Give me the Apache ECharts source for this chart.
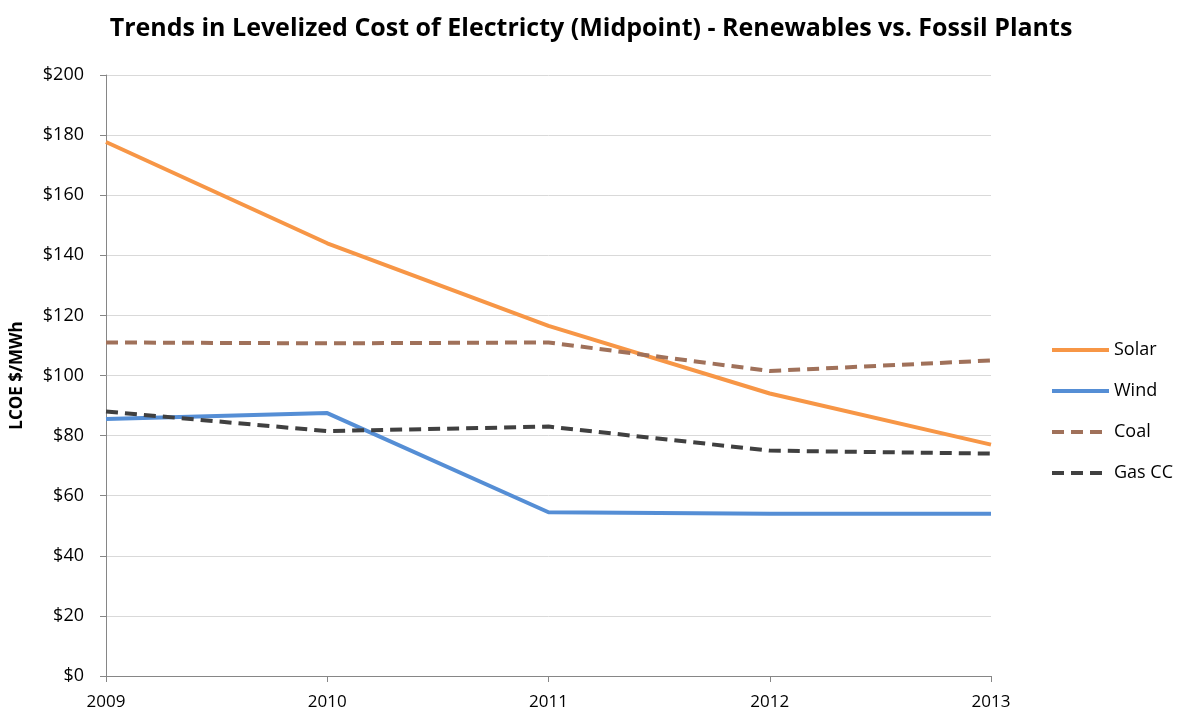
<!DOCTYPE html>
<html>
<head>
<meta charset="utf-8">
<script src="https://cdn.jsdelivr.net/npm/echarts@6/dist/echarts.min.js"></script>
<style>
    html, body { margin: 0; padding: 0; background: #fff; }
    #chart { width: 1182px; height: 716px; }
</style>
</head>
<body>
<div id="chart"></div>
<script>
// years on x axis
const years = ['2009', '2010', '2011', '2012', '2013'];
// LCOE midpoint, $/MWh
const solar = [177.7, 144, 116.5, 94, 77];
const wind = [85.5, 87.5, 54.5, 54, 54];
const coal = [111, 110.7, 111, 101.5, 105];
const gasCC = [88, 81.5, 83, 75, 74];

const font = '"Open Sans", "Liberation Sans", sans-serif';

let chart = echarts.init(document.getElementById('chart'));
chart.setOption({
    animation: false,
    title: {
        text: 'Trends in Levelized Cost of Electricty (Midpoint) - Renewables vs. Fossil Plants',
        left: 'center',
        top: 11,
        textStyle: { fontFamily: font, fontSize: 25, fontWeight: 'bold', color: '#000' }
    },
    legend: {
        orient: 'vertical',
        left: 1045,
        top: 336,
        itemWidth: 57,
        itemHeight: 14,
        itemGap: 23,
        data: ['Solar', 'Wind', 'Coal', 'Gas CC'],
        itemStyle: { opacity: 0 },
        lineStyle: { width: 4 },
        textStyle: { fontFamily: font, fontSize: 18, color: '#000' }
    },
    grid: { left: 106, right: 191, top: 75, bottom: 40, outerBoundsMode: 'none' },
    xAxis: {
        type: 'category',
        boundaryGap: false,
        data: years,
        axisLine: { lineStyle: { color: '#868686', width: 1 } },
        axisTick: { show: true, length: 6, lineStyle: { color: '#868686' } },
        axisLabel: { fontFamily: font, fontSize: 17, color: '#000', margin: 18 }
    },
    yAxis: {
        type: 'value',
        min: 0,
        max: 200,
        interval: 20,
        name: 'LCOE $/MWh',
        nameLocation: 'middle',
        nameGap: 80,
        nameTextStyle: { fontFamily: font, fontSize: 17, fontWeight: 'bold', color: '#000' },
        axisLine: { show: true, lineStyle: { color: '#868686', width: 1 } },
        axisTick: { show: true, length: 6, lineStyle: { color: '#868686' } },
        splitLine: { lineStyle: { color: '#d9d9d9', width: 1 } },
        axisLabel: { fontFamily: font, fontSize: 18, color: '#000', margin: 22, formatter: '${value}' }
    },
    series: [
        {
            name: 'Solar', type: 'line', data: solar, symbol: 'none',
            itemStyle: { color: '#f79646' },
            lineStyle: { color: '#f79646', width: 4 }
        },
        {
            name: 'Wind', type: 'line', data: wind, symbol: 'none',
            itemStyle: { color: '#558ed5' },
            lineStyle: { color: '#558ed5', width: 4 }
        },
        {
            name: 'Coal', type: 'line', data: coal, symbol: 'none',
            itemStyle: { color: '#a0715a' },
            lineStyle: { color: '#a0715a', width: 4, type: [12, 7] }
        },
        {
            name: 'Gas CC', type: 'line', data: gasCC, symbol: 'none',
            itemStyle: { color: '#404040' },
            lineStyle: { color: '#404040', width: 4, type: [12, 7] }
        }
    ]
});
</script>
</body>
</html>
